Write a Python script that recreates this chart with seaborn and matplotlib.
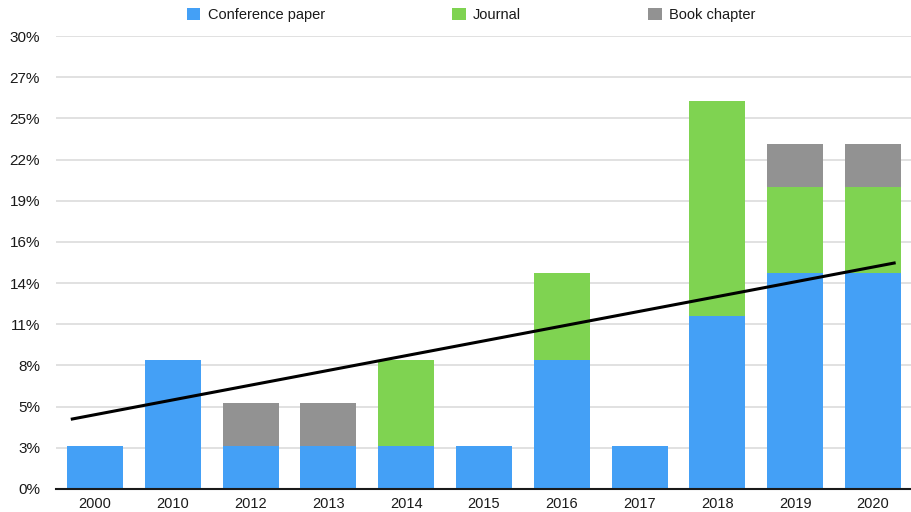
import matplotlib
matplotlib.use("Agg")
import matplotlib.pyplot as plt
import seaborn as sns
import pandas as pd
import numpy as np
from matplotlib.patches import Patch

# ---- data (percent of publications) ----
years = ["2000", "2010", "2012", "2013", "2014", "2015", "2016", "2017", "2018", "2019", "2020"]
conference = [2.86, 8.57, 2.86, 2.86, 2.86, 2.86, 8.57, 2.86, 11.43, 14.29, 14.29]
journal = [0.0, 0.0, 0.0, 0.0, 5.71, 0.0, 5.71, 0.0, 14.29, 5.71, 5.71]
book = [0.0, 0.0, 2.86, 2.86, 0.0, 0.0, 0.0, 0.0, 0.0, 2.86, 2.86]
series_names = ["Conference paper", "Journal", "Book chapter"]
trend_first = 4.92   # trend value at first category
trend_last = 14.70   # trend value at last category
ytick_values = [i * 30 / 11 for i in range(12)]
ytick_labels = ["0%", "3%", "5%", "8%", "11%", "14%", "16%", "19%", "22%", "25%", "27%", "30%"]

colors = {"Conference paper": "#44A0F6", "Journal": "#7FD351", "Book chapter": "#929292"}

sns.set_theme(style="white")
plt.rcParams["font.family"] = ["Liberation Sans", "DejaVu Sans"]

df = pd.DataFrame({"year": years, "conf": conference, "journal": journal, "book": book})
df["lvl1"] = df["conf"]
df["lvl2"] = df["conf"] + df["journal"]
df["lvl3"] = df["lvl2"] + df["book"]

fig = plt.figure(figsize=(9.12, 5.12), dpi=100)
ax = fig.add_axes([56 / 912, 1 - 489 / 512, 1 - 56 / 912, (489 - 36) / 512])

for col, name in [("lvl3", "Book chapter"), ("lvl2", "Journal"), ("lvl1", "Conference paper")]:
    sns.barplot(data=df, x="year", y=col, order=years, color=colors[name],
                saturation=1, width=0.72, ax=ax, zorder=2, linewidth=0)

# trend line
n = len(years)
slope = (trend_last - trend_first) / (n - 1)
x0, x1 = -0.31, (n - 1) + 0.29
ax.plot([x0, x1], [trend_first + slope * x0, trend_first + slope * x1],
        color="black", lw=2.2, zorder=4, solid_capstyle="butt")

ax.set_xlim(-0.5, n - 0.5)
ax.set_ylim(0, 30)
ax.set_yticks(ytick_values)
ax.set_yticklabels(ytick_labels)
ax.set_xlabel("")
ax.set_ylabel("")
ax.yaxis.grid(True, color="#d8d8d8", lw=1.1, zorder=0)
ax.set_axisbelow(True)
for s in ["left", "right", "top"]:
    ax.spines[s].set_visible(False)
ax.spines["bottom"].set_color("#1a1a1a")
ax.spines["bottom"].set_linewidth(1.5)
ax.spines["bottom"].set_zorder(5)
ax.tick_params(axis="y", length=0, pad=11.5, labelsize=11, labelcolor="#1a1a1a")
ax.tick_params(axis="x", length=0, pad=6, labelsize=10.5, labelcolor="#1a1a1a")

handles = [Patch(facecolor=colors[nm], edgecolor="none") for nm in series_names]
fig.legend(handles, series_names, loc="center", bbox_to_anchor=(471 / 912, 1 - 15 / 512),
           ncol=3, frameon=False, fontsize=10.5, handlelength=0.95, handleheight=0.95,
           handletextpad=0.5, columnspacing=8.7, labelcolor="#1a1a1a")

fig.savefig("out.png", dpi=100)
